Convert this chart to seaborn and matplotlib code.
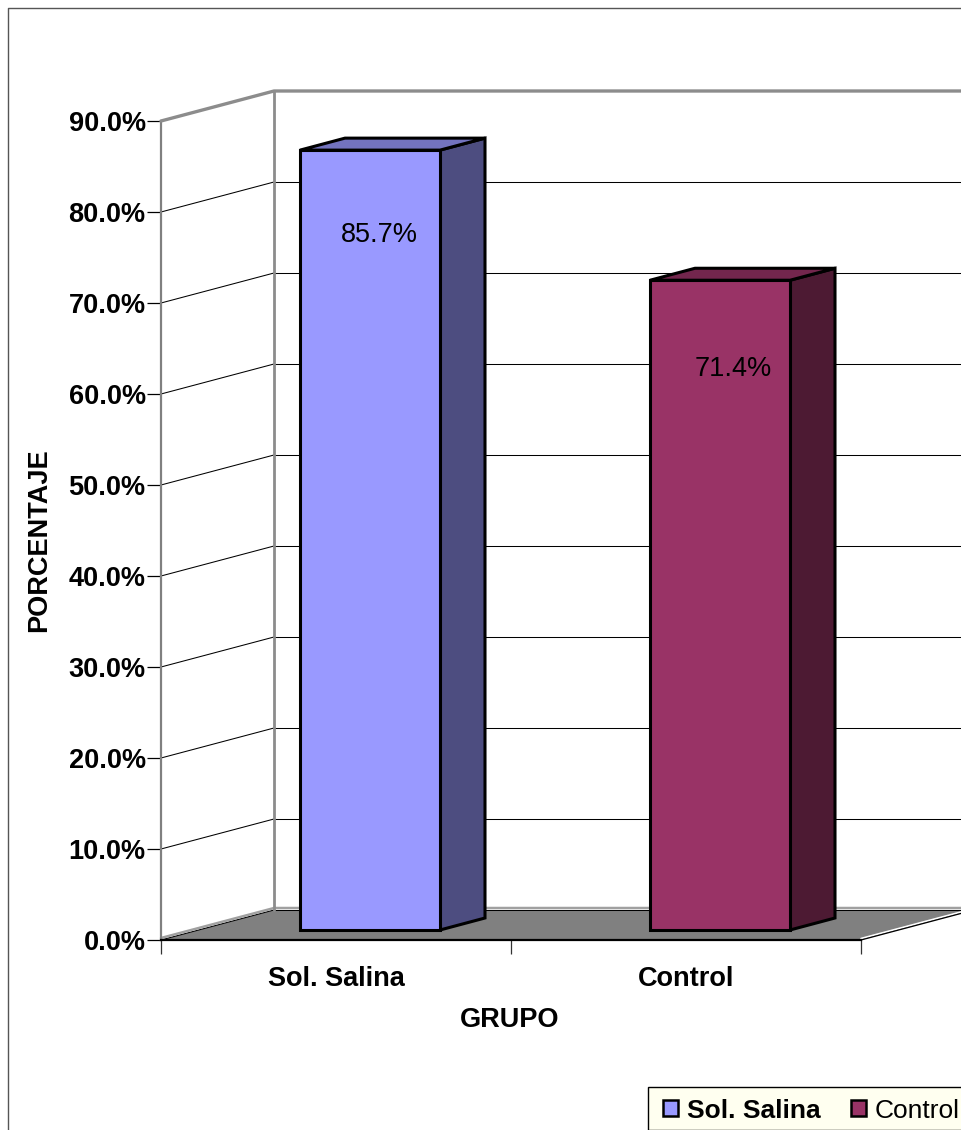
import matplotlib
matplotlib.use('Agg')
import matplotlib.pyplot as plt
from matplotlib.lines import Line2D
from matplotlib.patches import Patch, Polygon, Rectangle
from matplotlib.transforms import Affine2D
import numpy as np
import seaborn as sns

grupos = ['Sol. Salina', 'Control']
porcentajes = [85.7, 71.4]
etiquetas = ['85.7%', '71.4%']
yticks = [0, 10, 20, 30, 40, 50, 60, 70, 80, 90]
colores = ['#9999FF', '#993366']
laterales = ['#4D4D80', '#4D1A33']
superiores = ['#7373BF', '#73264D']

W, H = 961, 1130
DX, DY = 113, 30        # fondo del grafico 3D, en pixeles
BX, BY = 34, 10         # desplazamiento de la barra
PX, PY = 45, 12         # profundidad de la barra
FS = 19.5

sns.set_theme(style='white', rc={'text.color': 'black', 'axes.labelcolor': 'black',
                                 'xtick.labelcolor': 'black', 'ytick.labelcolor': 'black'})
plt.rcParams['font.family'] = ['Liberation Sans', 'DejaVu Sans']

fig = plt.figure(figsize=(W / 100, H / 100), dpi=100)
ax = fig.add_axes([161 / W, (H - 940) / H, 700 / W, 819 / H])
ax.patch.set_alpha(0)

sns.barplot(x=grupos, y=porcentajes, hue=grupos, palette=colores, saturation=1, width=0.4,
            edgecolor='black', linewidth=2.2, legend=False, ax=ax, zorder=5)
ax.set_xlim(-0.5, 1.5)
ax.set_ylim(0, 90)
fig.canvas.draw()


def px(x, y):
    return ax.transData.transform((x, y))


def poly(puntos, **kw):
    ax.add_patch(Polygon(puntos, closed=True, transform=None, clip_on=False, **kw))


def linea(xs, ys, **kw):
    ax.add_line(Line2D(xs, ys, transform=None, clip_on=False, **kw))


x0, y0 = px(-0.5, 0)
x1, _ = px(1.5, 0)

# suelo
poly([(x0, y0), (x0 + DX, y0 + DY), (x1 + DX, y0 + DY), (x1, y0)],
     facecolor='#808080', edgecolor='none', zorder=1)
linea([x1, x1 + DX], [y0 + 1.5, y0 + DY + 1.5], color='white', lw=1.2, zorder=2)
linea([x1, x1 + DX], [y0, y0 + DY], color='black', lw=0.9, zorder=2)

# lineas de division
for v in yticks[:-1]:
    _, yv = px(0, v)
    linea([x0, x0 + DX], [yv, yv + DY], color='black', lw=0.75, zorder=2)
    yh = np.floor(yv + DY) + 0.5
    linea([x0 + DX, W + 20], [yh, yh], color='black', lw=0.75, zorder=2)

# paredes en gris
_, ytop = px(0, 90)
linea([x0, x0 + DX, W + 20], [ytop, ytop + DY, ytop + DY], color='#8C8C8C', lw=2.4, zorder=3)
linea([x0 + DX, x0 + DX], [y0 + DY, ytop + DY], color='#8C8C8C', lw=2.0, zorder=3)
linea([x0, x0 + DX, W + 20], [y0 + 2, y0 + DY + 2, y0 + DY + 2], color='#A0A0A0', lw=1.8, zorder=2)

# barras con efecto 3D
ajuste_x = [9.5, 13.5]
ajuste_y = [8.2, 8.6]
for i, (barra, valor) in enumerate(zip(ax.patches, porcentajes)):
    barra.set_transform(ax.transData + Affine2D().translate(BX, BY))
    barra.set_clip_on(False)
    xa, ya = px(barra.get_x(), 0)
    xb, yb = px(barra.get_x() + barra.get_width(), valor)
    xa, xb, ya, yb = xa + BX, xb + BX, ya + BY, yb + BY
    poly([(xb, ya), (xb + PX, ya + PY), (xb + PX, yb + PY), (xb, yb)], facecolor=laterales[i],
         edgecolor='black', lw=2.2, joinstyle='miter', zorder=4)
    poly([(xa, yb), (xa + PX, yb + PY), (xb + PX, yb + PY), (xb, yb)], facecolor=superiores[i],
         edgecolor='black', lw=2.2, joinstyle='miter', zorder=4)
    ax.text(i, valor - ajuste_y[i], etiquetas[i], ha='center', va='center', fontsize=FS, color='black', zorder=6,
            transform=ax.transData + Affine2D().translate(BX + ajuste_x[i], 0))

# ejes
sns.despine(ax=ax)
ax.spines['left'].set_color('#808080')
ax.spines['left'].set_linewidth(1.6)
ax.spines['bottom'].set_color('black')
ax.spines['bottom'].set_linewidth(1.6)
ax.set_yticks(yticks)
ax.set_yticklabels(['%.1f%%' % v for v in yticks], fontsize=FS, fontweight='bold')
ax.tick_params(axis='y', left=True, length=10, width=0.9, color='black', pad=1)
ax.set_xticks([0, 1])
ax.set_xticklabels(grupos, fontsize=FS, fontweight='bold')
ax.set_xticks([-0.5, 0.5, 1.5], minor=True)
ax.tick_params(axis='x', which='major', bottom=False, pad=13)
ax.tick_params(axis='x', which='minor', bottom=True, length=10, width=0.9, color='#333333')
ax.set_xlabel('GRUPO', fontsize=FS, fontweight='bold')
ax.xaxis.set_label_coords((510 - 161) / 700, -(1020 - 940) / 819, transform=ax.transAxes)
ax.xaxis.label.set_va('center')
ax.set_ylabel('PORCENTAJE', fontsize=FS, fontweight='bold')
ax.yaxis.set_label_coords((39 - 161) / 700, (940 - 540) / 819, transform=ax.transAxes)
ax.yaxis.label.set_va('center')

# marco exterior
fig.add_artist(Line2D([7.8 / W, 7.8 / W, 1], [0, 1 - 7.8 / H, 1 - 7.8 / H], color='#555555', lw=1.0))

# leyenda, la caja se sale del lienzo por la derecha
fig.add_artist(Rectangle((648 / W, (H - 1129.5) / H), 400 / W, 43 / H, transform=fig.transFigure,
                         facecolor='#FFFFF0', edgecolor='black', lw=1.0, zorder=4))
handles = [Patch(facecolor=c, edgecolor='black', linewidth=1.8) for c in colores]
leg = fig.legend(handles, grupos, ncol=2, loc='center left',
                 bbox_to_anchor=(663 / W, 1 - 1110.5 / H), bbox_transform=fig.transFigure, borderaxespad=0,
                 fontsize=19, frameon=False, handlelength=0.55, handleheight=0.55, handletextpad=0.35,
                 columnspacing=1.17, borderpad=0)
leg.set_zorder(5)
leg.get_texts()[0].set_fontweight('bold')

fig.savefig('out.png', dpi=100)
